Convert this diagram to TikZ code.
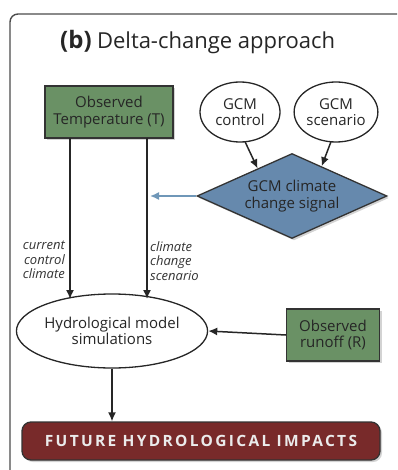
\documentclass[tikz,border=0pt]{standalone}
\usepackage{fontspec}
\setmainfont{Open Sans}
\usepackage{tikz}
\usetikzlibrary{shapes.geometric, arrows.meta, positioning, shadows, calc}
\definecolor{obsGreen}{HTML}{6A9165}
\definecolor{gcmBlue}{HTML}{6689AD}
\definecolor{impactRed}{HTML}{782A2A}
\definecolor{signalBlue}{HTML}{6F97B8}
\tikzset{
  boxfont/.style={font=\fontsize{15}{16.5}\selectfont, text=black!85},
  obsbox/.style={draw=black!80, line width=1.3pt, fill=obsGreen, align=center, inner sep=2pt, boxfont,
    drop shadow={shadow xshift=2pt, shadow yshift=-2pt, opacity=0.35}},
  gcmoval/.style={ellipse, draw=black!85, line width=1.3pt, fill=white, align=center, inner sep=0pt, boxfont},
  flow/.style={-{Latex[length=9pt, width=8pt]}, line width=1.5pt, black!85},
  sidelabel/.style={font=\fontsize{13}{14.5}\selectfont\itshape, black!80, inner sep=1pt}
}

\begin{document}
\begin{tikzpicture}[x=1pt, y=-1pt]
  \useasboundingbox (0,0) rectangle (397,470);
  % Frame
  \begin{scope}
    \clip (0,0) rectangle (397,470);
    \draw[black!70, line width=1.4pt, rounded corners=8pt] (10,14) rectangle (430,500);
  \end{scope}
  \node[anchor=base west, font=\fontsize{24}{26}\selectfont\bfseries, black!85, inner sep=0pt] (tag) at (60,49) {(b)};
  \node[anchor=base west, font=\fontsize{22}{24}\selectfont, black!85, inner sep=0pt] (title) at ([xshift=5pt]tag.base east) {Delta-change approach};

  % Inputs
  \node[obsbox, minimum width=128pt, minimum height=52pt] (obsT) at (109,112) {Observed\\Temperature (T)};
  \node[gcmoval, minimum width=80pt, minimum height=60pt] (ctrl) at (240,112) {GCM\\control};
  \node[gcmoval, minimum width=78pt, minimum height=60pt] (scen) at (336,112) {GCM\\scenario};
  \node[diamond, draw=black!80, line width=1.3pt, fill=gcmBlue, aspect=2.2, inner sep=0pt, minimum width=190pt, minimum height=85pt, align=center, boxfont,
    drop shadow={shadow xshift=2pt, shadow yshift=-2pt, opacity=0.35}] (signal) at (292,196) {GCM climate\\change signal};

  % Model
  \node[gcmoval, minimum width=180pt, minimum height=74pt] (hydro) at (112,331) {Hydrological model\\simulations};
  \node[obsbox, minimum width=93pt, minimum height=52pt] (obsR) at (333,335) {Observed\\runoff (R)};
  \node[draw=black!80, line width=1.3pt, fill=impactRed, rounded corners=9pt, minimum width=358pt, minimum height=38pt,
    drop shadow={shadow xshift=2pt, shadow yshift=-2pt, opacity=0.35},
    font=\fontsize{15.5}{16}\selectfont\bfseries\addfontfeatures{LetterSpace=15}, text=white!92!black] (impact) at (201,441) {FUTURE HYDROLOGICAL IMPACTS};

  % Connectors
  \coordinate (leftTop) at (70,138);
  \coordinate (rightTop) at (147,138);
  \coordinate (leftEnd) at (70,299);
  \coordinate (rightEnd) at (147,299);
  \draw[flow] (leftTop) -- (leftEnd);
  \draw[flow] (rightTop) -- (rightEnd);
  \coordinate (ctrlIn) at ($(signal.north)!0.36!(signal.west)$);
  \coordinate (scenIn) at ($(signal.north)!0.31!(signal.east)$);
  \draw[flow] ([xshift=5pt, yshift=1pt]ctrl.south) -- (ctrlIn);
  \draw[flow] ([xshift=-5pt, yshift=1pt]scen.south) -- (scenIn);
  \coordinate (signalEnd) at (150,196);
  \draw[-{Latex[length=9pt, width=8pt]}, line width=1.5pt, signalBlue] (signal.west) -- (signalEnd);
  \draw[flow] (obsR.west) -- (hydro.east);
  \draw[flow] (hydro.south) -- (impact.north -| hydro.south);

  % Labels
  \node[sidelabel, align=right, anchor=north east] (ctrlLab) at (66,240) {current\\control\\climate};
  \node[sidelabel, align=left, anchor=north west] (scenLab) at (149,240) {climate\\change\\scenario};
\end{tikzpicture}
\end{document}
